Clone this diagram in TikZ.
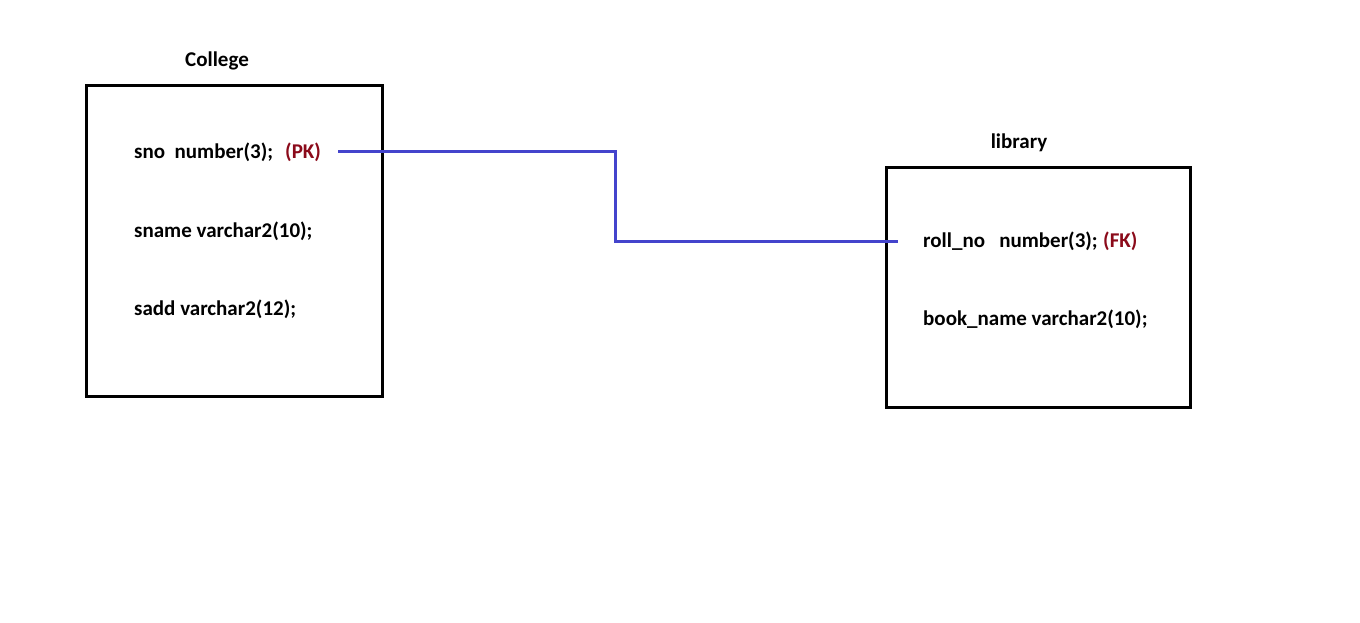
\documentclass[tikz,border=0pt]{standalone}
\usepackage{fontspec}
\setmainfont{Carlito}
\usepackage{xcolor}
\definecolor{erkey}{HTML}{8B0A1A}
\definecolor{erlink}{HTML}{4444CC}
\usetikzlibrary{positioning,calc}
\tikzset{
  ertable/.style={draw,line width=3pt,minimum width=#1,inner sep=0pt},
  ertitle/.style={font=\fontsize{21}{25}\selectfont\bfseries,anchor=base,inner sep=0pt},
  erfield/.style={font=\fontsize{21}{25}\selectfont\bfseries,anchor=base west,inner sep=0pt},
  erkeytag/.style={erfield,text=erkey},
  erconn/.style={erlink,line width=3pt},
}
\begin{document}
\begin{tikzpicture}[x=1pt,y=-1pt]
\useasboundingbox (0,0) rectangle (1360,623);
 % College table
\node[ertable=296pt,minimum height=310pt] (college) at (234,241) {};
\node[ertitle] (collegetitle) at (217,67) {College};
\node[erfield] (sno) at (134,159) {sno\ \ number(3);};
\node[erkeytag] (pk) at (285,159) {(PK)};
\node[erfield] (sname) at (134,237) {sname varchar2(10);};
\node[erfield] (sadd) at (134,315) {sadd varchar2(12);};
 % library table
\node[ertable=304pt,minimum height=240pt] (library) at (1038,287) {};
\node[ertitle] (librarytitle) at (1019,149) {library};
\node[erfield] (rollno) at (923,247) {roll\_no\ \ \ number(3);};
\node[erkeytag] (fk) at (1103,247) {(FK)};
\node[erfield] (bookname) at (923,325) {book\_name varchar2(10);};
 % PK -> FK link
\coordinate (bend) at (615,241);
\coordinate (fkend) at ($(rollno.west)+(-25,0)$);
\draw[erconn] ([xshift=17pt,yshift=7pt]pk.base east) -| (bend) -- (bend -| fkend);
\end{tikzpicture}
\end{document}
